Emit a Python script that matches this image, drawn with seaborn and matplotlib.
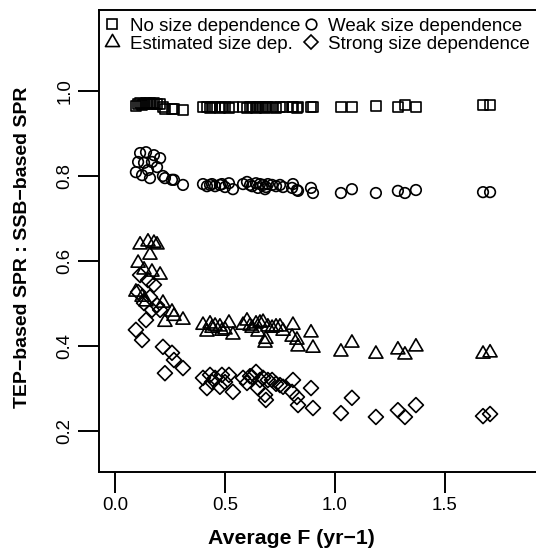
import numpy as np
import pandas as pd
import matplotlib
matplotlib.use("Agg")
import matplotlib.pyplot as plt
import seaborn as sns
from matplotlib.path import Path
from matplotlib.lines import Line2D

# ---- data ----
avg_F = [0.095, 0.105, 0.114, 0.123, 0.132, 0.141, 0.150, 0.159, 0.168, 0.177,
         0.191, 0.205, 0.218, 0.227, 0.259, 0.268, 0.309,
         0.400, 0.418, 0.432, 0.441, 0.455, 0.477, 0.486, 0.500, 0.518, 0.536,
         0.582, 0.600, 0.614, 0.623, 0.641, 0.650, 0.659, 0.673, 0.682, 0.686,
         0.695, 0.714, 0.732, 0.750, 0.764, 0.805, 0.809, 0.827, 0.832, 0.891, 0.900,
         1.027, 1.077, 1.186, 1.286, 1.318, 1.368, 1.673, 1.705]

no_size_dep = [0.965, 0.969, 0.972, 0.967, 0.969, 0.972, 0.969, 0.972, 0.969, 0.972,
               0.969, 0.969, 0.962, 0.958, 0.958, 0.958, 0.955,
               0.962, 0.962, 0.960, 0.962, 0.962, 0.960, 0.962, 0.962, 0.960, 0.962,
               0.962, 0.960, 0.962, 0.962, 0.960, 0.962, 0.962, 0.962, 0.960, 0.962,
               0.962, 0.962, 0.960, 0.962, 0.962, 0.962, 0.962, 0.960, 0.962, 0.962, 0.962,
               0.962, 0.962, 0.965, 0.962, 0.967, 0.962, 0.967, 0.967]

weak_size_dep = [0.809, 0.833, 0.854, 0.802, 0.831, 0.856, 0.814, 0.795, 0.833, 0.849,
                 0.821, 0.842, 0.800, 0.795, 0.791, 0.791, 0.779,
                 0.781, 0.776, 0.779, 0.781, 0.776, 0.779, 0.781, 0.774, 0.783, 0.769,
                 0.781, 0.786, 0.779, 0.776, 0.783, 0.772, 0.781, 0.779, 0.769, 0.774,
                 0.781, 0.779, 0.776, 0.779, 0.774, 0.772, 0.781, 0.767, 0.765, 0.772, 0.760,
                 0.760, 0.769, 0.760, 0.765, 0.760, 0.767, 0.762, 0.762]

estimated_size_dep = [0.527, 0.595, 0.638, 0.515, 0.579, 0.504, 0.645, 0.614, 0.574, 0.642,
                      0.638, 0.567, 0.501, 0.456, 0.480, 0.470, 0.461,
                      0.449, 0.433, 0.452, 0.442, 0.447, 0.445, 0.435, 0.438, 0.454, 0.426,
                      0.449, 0.459, 0.447, 0.442, 0.452, 0.433, 0.454, 0.456, 0.407, 0.416,
                      0.445, 0.442, 0.445, 0.445, 0.435, 0.421, 0.449, 0.414, 0.398, 0.431, 0.395,
                      0.386, 0.407, 0.381, 0.391, 0.379, 0.398, 0.381, 0.384]

strong_size_dep = [0.438, 0.527, 0.567, 0.414, 0.501, 0.461, 0.555, 0.515, 0.485, 0.544,
                   0.496, 0.485, 0.398, 0.336, 0.384, 0.367, 0.348,
                   0.325, 0.301, 0.332, 0.315, 0.325, 0.304, 0.332, 0.315, 0.332, 0.292,
                   0.325, 0.313, 0.329, 0.327, 0.339, 0.301, 0.320, 0.325, 0.285, 0.273,
                   0.320, 0.320, 0.311, 0.308, 0.304, 0.292, 0.320, 0.280, 0.261, 0.301, 0.254,
                   0.242, 0.278, 0.233, 0.249, 0.233, 0.261, 0.235, 0.240]

series_labels = ["No size dependence", "Weak size dependence",
                 "Estimated size dep.", "Strong size dependence"]
x_ticks = [0.0, 0.5, 1.0, 1.5]
y_ticks = [0.2, 0.4, 0.6, 0.8, 1.0]
x_label = "Average F (yr\u22121)"
y_label = "TEP\u2212based SPR : SSB\u2212based SPR"

# ---- style ----
sns.set_style("ticks")
plt.rcParams['font.family'] = ['Liberation Sans', 'DejaVu Sans']
plt.rcParams['text.color'] = 'black'
plt.rcParams['axes.labelcolor'] = 'black'
plt.rcParams['xtick.color'] = 'black'
plt.rcParams['ytick.color'] = 'black'
FS_TICK = 13.4
FS_LEG = 13.5

tri_marker = Path([(0, 1.0), (-0.866, -0.5), (0.866, -0.5), (0, 1.0)],
                  [Path.MOVETO, Path.LINETO, Path.LINETO, Path.CLOSEPOLY])

W, H = 536, 551
fig = plt.figure(figsize=(W / 100, H / 100), dpi=100)
ax_l, ax_r, ax_t, ax_b = 98.5, 540, 10, 472
ax = fig.add_axes([ax_l / W, 1 - ax_b / H, (ax_r - ax_l) / W, (ax_b - ax_t) / H])

df = pd.DataFrame({"F": avg_F, "no": no_size_dep, "weak": weak_size_dep,
                   "est": estimated_size_dep, "strong": strong_size_dep})

sizes = {"no": 46, "weak": 58, "est": 136, "strong": 58}
specs = [("no", "s"), ("weak", "o"), ("est", tri_marker), ("strong", "D")]
lw = 1.2
for col, mk in specs:
    sns.scatterplot(data=df, x="F", y=col, marker=mk, s=sizes[col], facecolors="none",
                    edgecolor="black", linewidth=lw, ax=ax, zorder=3)

ax.set_xlim(-0.075, 1.932)
ax.set_ylim(0.1035, 1.1906)
ax.set_xticks(x_ticks)
ax.set_xticklabels([f"{v:.1f}" for v in x_ticks], fontsize=FS_TICK)
ax.set_yticks(y_ticks)
ax.set_yticklabels([f"{v:.1f}" for v in y_ticks], fontsize=FS_TICK, rotation=90, va="center")
ax.tick_params(axis="both", direction="out", length=15, width=1.4, color="black",
               pad=3, labelcolor="black")
for sp in ax.spines.values():
    sp.set_visible(True)
    sp.set_linewidth(1.4)
    sp.set_color("black")
ax.set_xlabel("")
ax.set_ylabel("")

fig.text(291.5 / W, 1 - 538 / H, x_label, ha="center", va="center",
         fontsize=15.3, fontweight="bold")
fig.text(22.5 / W, 1 - 247 / H, y_label, ha="center", va="center", rotation=90,
         fontsize=14.0, fontweight="bold")

handles = [
    Line2D([], [], marker="s", ms=np.sqrt(sizes["no"]), mfc="none", mec="black", mew=lw, ls="none"),
    Line2D([], [], marker=tri_marker, ms=np.sqrt(sizes["est"]), mfc="none", mec="black", mew=lw, ls="none"),
    Line2D([], [], marker="o", ms=np.sqrt(sizes["weak"]), mfc="none", mec="black", mew=lw, ls="none"),
    Line2D([], [], marker="D", ms=np.sqrt(sizes["strong"]), mfc="none", mec="black", mew=lw, ls="none"),
]
leg_labels = [series_labels[0], series_labels[2], series_labels[1], series_labels[3]]
ax.legend(handles, leg_labels, ncol=2, loc="upper left",
          bbox_to_anchor=(0.0095, 0.983), frameon=False, fontsize=FS_LEG,
          handlelength=1.0, handletextpad=0.45, columnspacing=0.05,
          labelspacing=0.05, borderpad=0.0, borderaxespad=0.0)

fig.savefig("out.png", dpi=100)
